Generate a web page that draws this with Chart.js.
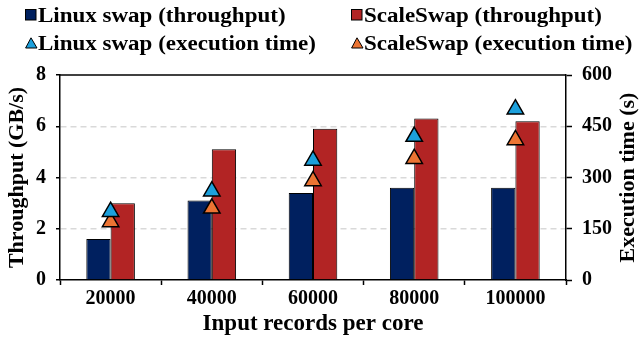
<!DOCTYPE html>
<html>
<head>
<meta charset="utf-8">
<script src="https://cdn.jsdelivr.net/npm/chart.js@4.4.1/dist/chart.umd.min.js"></script>
<style>
  html, body { margin: 0; padding: 0; background: #fff; }
  #wrap { position: relative; width: 640px; height: 344px; }
  #chart { position: absolute; left: 0; top: 0; }
  .leg { position: absolute; font-family: 'Liberation Serif', 'Times New Roman', serif; font-weight: bold;
         font-size: 20px; line-height: 20px; color: #000; white-space: nowrap; }
  .leg span { display: inline-block; transform: scaleX(1.15); transform-origin: left center; }
  .mk { position: absolute; }
</style>
</head>
<body>
<div id="wrap">
  <canvas id="chart" width="640" height="344"></canvas>
  <div id="legend"></div>
</div>
<script>
// --- DATA ---
const categories = ['20000', '40000', '60000', '80000', '100000'];
const linuxThroughput = [1.6, 3.1, 3.4, 3.6, 3.6];
const scaleThroughput = [3.0, 5.1, 5.9, 6.3, 6.2];
const linuxTime = [200, 260, 350, 420, 500];
const scaleTime = [170, 210, 290, 355, 410];
const leftTicks = [0, 2, 4, 6, 8];
const rightTicks = [0, 150, 300, 450, 600];
const rightTitle = 'Execution time (s)';

// --- COLORS ---
const navy = '#00205f';
const red = '#b22424';
const blue = '#1ca0dc';
const orange = '#ec7433';

// --- HTML LEGEND (two aligned columns) ---
const legendItems = [
    { label: 'Linux swap (throughput)', color: navy, shape: 'square', x: 25, y: 5 },
    { label: 'ScaleSwap (throughput)', color: red, shape: 'square', x: 351, y: 5 },
    { label: 'Linux swap (execution time)', color: blue, shape: 'triangle', x: 25, y: 33 },
    { label: 'ScaleSwap (execution time)', color: orange, shape: 'triangle', x: 351, y: 33 }
];
const legendEl = document.getElementById('legend');
legendItems.forEach(it => {
    const svg = it.shape === 'square'
        ? `<svg class="mk" style="left:${it.x}px;top:${it.y + 4}px" width="12" height="12"><rect x="0.5" y="0.5" width="10.5" height="10.5" fill="${it.color}" stroke="#000" stroke-width="1"/></svg>`
        : `<svg class="mk" style="left:${it.x}px;top:${it.y + 4}px" width="13" height="12"><polygon points="6,0.8 12,11 0.6,11" fill="${it.color}" stroke="#000" stroke-width="1"/></svg>`;
    legendEl.insertAdjacentHTML('beforeend', svg +
        `<div class="leg" style="left:${it.x + 13}px;top:${it.y}px"><span>${it.label}</span></div>`);
});

// --- CHART ---
Chart.defaults.font.family = "'Liberation Serif', 'Times New Roman', serif";
Chart.defaults.font.weight = 'bold';
Chart.defaults.color = '#000';

// top frame line + right axis title reading bottom-to-top
const frameAndTitle = {
    id: 'frameAndTitle',
    afterDraw(chart) {
        const { ctx, chartArea: a } = chart;
        ctx.save();
        ctx.strokeStyle = '#000';
        ctx.lineWidth = 1.5;
        ctx.beginPath();
        ctx.moveTo(a.left, a.top);
        ctx.lineTo(a.right, a.top);
        ctx.stroke();
        ctx.translate(628, (a.top + a.bottom) / 2);
        ctx.rotate(-Math.PI / 2);
        ctx.fillStyle = '#000';
        ctx.font = "bold 22px 'Liberation Serif', 'Times New Roman', serif";
        ctx.textAlign = 'center';
        ctx.textBaseline = 'middle';
        ctx.fillText(rightTitle, 0, 0);
        ctx.restore();
    }
};

const tri = (label, data, color) => ({
    type: 'line', label, data, yAxisID: 'y1', order: 0,
    showLine: false, pointStyle: 'triangle', pointRadius: 9.5,
    pointBackgroundColor: color, pointBorderColor: '#000', pointBorderWidth: 1.5
});

new Chart(document.getElementById('chart'), {
    type: 'bar',
    data: {
        labels: categories,
        datasets: [
            { label: 'Linux swap (throughput)', data: linuxThroughput, backgroundColor: navy,
              borderColor: '#000', borderWidth: 1, yAxisID: 'y', order: 1,
              categoryPercentage: 0.48, barPercentage: 1 },
            { label: 'ScaleSwap (throughput)', data: scaleThroughput, backgroundColor: red,
              borderColor: '#000', borderWidth: 1, yAxisID: 'y', order: 1,
              categoryPercentage: 0.48, barPercentage: 1 },
            tri('Linux swap (execution time)', linuxTime, blue),
            tri('ScaleSwap (execution time)', scaleTime, orange)
        ]
    },
    options: {
        responsive: false,
        animation: false,
        layout: { padding: { top: 75, left: 0, right: 0, bottom: 0 } },
        plugins: { legend: { display: false }, tooltip: { enabled: false } },
        scales: {
            x: {
                offset: true,
                grid: { offset: true, drawOnChartArea: false, tickLength: 5, tickColor: '#000', tickWidth: 1.5 },
                border: { color: '#000', width: 1.5 },
                ticks: { font: { size: 20 }, padding: 2 },
                title: { display: true, text: 'Input records per core', font: { size: 23 }, padding: { top: 0, bottom: 6 } },
                afterFit: s => { s.height = 64; }
            },
            y: {
                position: 'left', min: 0, max: 8,
                afterBuildTicks: s => { s.ticks = leftTicks.map(v => ({ value: v })); },
                grid: {
                    color: c => (c.tick && (c.tick.value === 0 || c.tick.value === 8)) ? 'rgba(0,0,0,0)' : '#d9d9d9',
                    lineWidth: 1.5, tickLength: 4, tickColor: '#000', tickWidth: 1.5
                },
                border: { color: '#000', width: 1.5, dash: [6, 4] },
                ticks: { font: { size: 20 }, padding: 10 },
                title: { display: true, text: 'Throughput (GB/s)', font: { size: 22 }, padding: { top: 4, bottom: 0 } },
                afterFit: s => { s.width = 60; }
            },
            y1: {
                position: 'right', min: 0, max: 600,
                afterBuildTicks: s => { s.ticks = rightTicks.map(v => ({ value: v })); },
                grid: { drawOnChartArea: false, tickLength: 6, tickColor: '#000', tickWidth: 1.5 },
                border: { color: '#000', width: 1.5 },
                ticks: { font: { size: 20 }, padding: 10 },
                title: { display: false },
                afterFit: s => { s.width = 74; }
            }
        }
    },
    plugins: [frameAndTitle]
});
</script>
</body>
</html>
